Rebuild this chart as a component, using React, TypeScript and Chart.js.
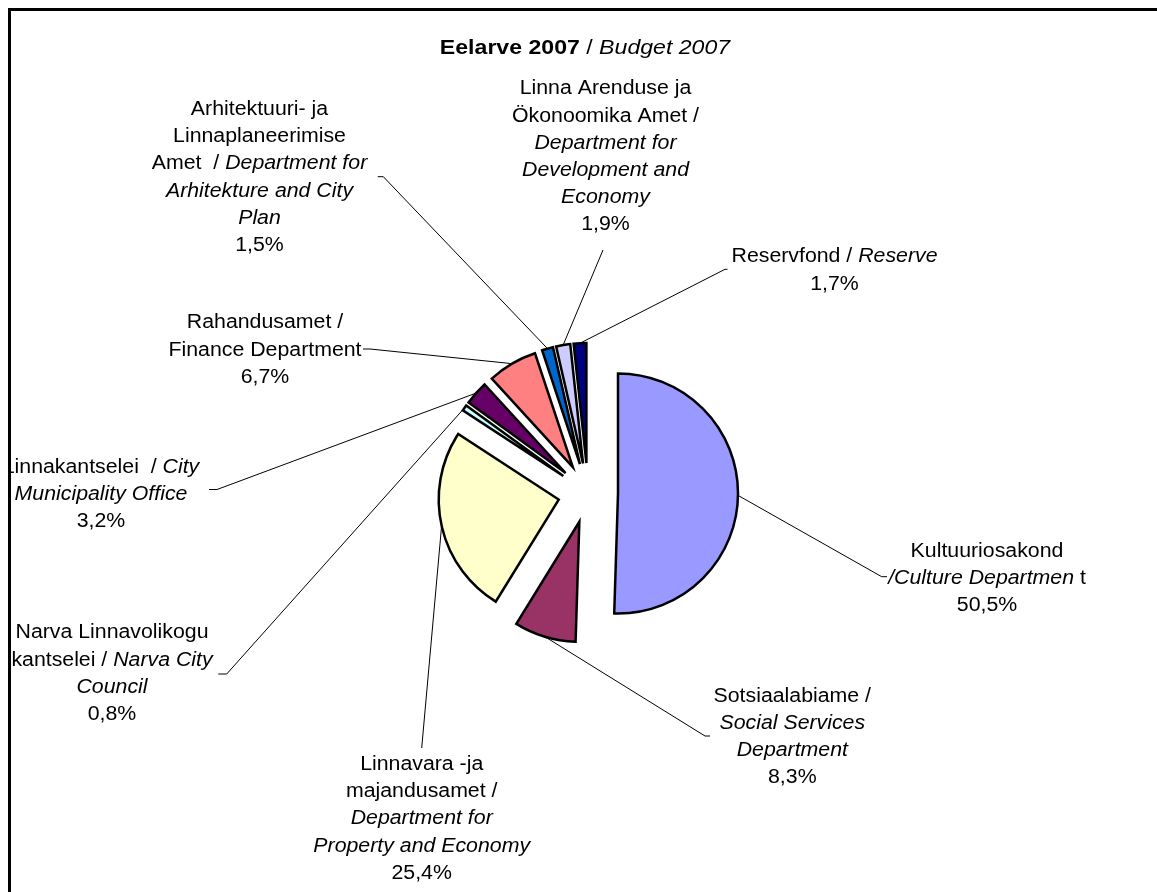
import React, { useEffect, useRef } from 'react';
import { Chart, ArcElement, PieController, registerables } from 'chart.js';

Chart.register(...registerables);

// ---------------- data ----------------
const categories = [
  'Kultuuriosakond',
  'Sotsiaalabiame',
  'Linnavara -ja majandusamet',
  'Narva Linnavolikogu kantselei',
  'Linnakantselei',
  'Rahandusamet',
  'Arhitektuuri- ja Linnaplaneerimise Amet',
  'Linna Arenduse ja Ökonoomika Amet',
  'Reservfond',
];
const shares = [50.5, 8.3, 25.4, 0.8, 3.2, 6.7, 1.5, 1.9, 1.7];
const sliceColors = ['#9999FF', '#993366', '#FFFFCC', '#CCFFFF', '#660066', '#FF8080', '#0066CC', '#CCCCFF', '#000080'];

type Seg = { t: string; s?: 'i' | 'b' };
// wrapped label text (percent line is appended from shares)
const labelText: Seg[][][] = [
  [[{ t: 'Kultuuriosakond' }], [{ t: '/Culture Departmen', s: 'i' }, { t: ' t' }]],
  [[{ t: 'Sotsiaalabiame /' }], [{ t: 'Social Services', s: 'i' }], [{ t: 'Department', s: 'i' }]],
  [[{ t: 'Linnavara -ja' }], [{ t: 'majandusamet /' }], [{ t: 'Department for', s: 'i' }], [{ t: 'Property and Economy', s: 'i' }]],
  [[{ t: 'Narva Linnavolikogu' }], [{ t: 'kantselei / ' }, { t: 'Narva City', s: 'i' }], [{ t: 'Council', s: 'i' }]],
  [[{ t: 'Linnakantselei  / ' }, { t: 'City', s: 'i' }], [{ t: 'Municipality Office', s: 'i' }]],
  [[{ t: 'Rahandusamet /' }], [{ t: 'Finance Department' }]],
  [[{ t: 'Arhitektuuri- ja' }], [{ t: 'Linnaplaneerimise' }], [{ t: 'Amet  / ' }, { t: 'Department for', s: 'i' }], [{ t: 'Arhitekture and City', s: 'i' }], [{ t: 'Plan', s: 'i' }]],
  [[{ t: 'Linna Arenduse ja' }], [{ t: 'Ökonoomika Amet /' }], [{ t: 'Department for', s: 'i' }], [{ t: 'Development and', s: 'i' }], [{ t: 'Economy', s: 'i' }]],
  [[{ t: 'Reservfond / ' }, { t: 'Reserve', s: 'i' }]],
];
const titleText: Seg[] = [{ t: 'Eelarve 2007', s: 'b' }, { t: ' / ' }, { t: 'Budget 2007', s: 'i' }];

// ---------------- layout (page coordinates) ----------------
const PAGE_OFFSET = 8;
const CANVAS_W = 1149;
const CANVAS_H = 884;
const FONT_FAMILY = '"Liberation Sans", Arial, Helvetica, sans-serif';
const LABEL_SIZE = 20;
const TITLE_SIZE = 21;
const TEXT_STRETCH = 1.065;
const TITLE_STRETCH = 1.1;
const LINE_H = 27.2;
const TITLE_POS = { cx: 585, y: 54 };
const LABEL_LAYOUT = [
  { cx: 987, y0: 556.7, elbow: [881.7, 576.7], end: [887, 576.7] },
  { cx: 792.3, y0: 701.7, elbow: [705, 736], end: [710, 736] },
  { cx: 421.7, y0: 770, elbow: [421.7, 748], end: [421.7, 748] },
  { cx: 112, y0: 638.3, elbow: [226.7, 674], end: [218.3, 674] },
  { cx: 101, y0: 472.7, elbow: [217, 489.5], end: [209, 489.5] },
  { cx: 265, y0: 328.3, elbow: [370, 349], end: [363, 349] },
  { cx: 259.5, y0: 115, elbow: [383.3, 176.7], end: [377.7, 176.7] },
  { cx: 605.5, y0: 94.3, elbow: [603, 250], end: [603, 250] },
  { cx: 834.5, y0: 262.3, elbow: [725, 269.3], end: [727.5, 269.3] },
];

// ---------------- exploded pie (full translation per slice) ----------------
class ExplodedArc extends ArcElement {
  static id = 'explodedArc';
  draw(ctx: CanvasRenderingContext2D) {
    const self: any = this;
    const { x, y, startAngle, endAngle, outerRadius, options } = self;
    if (!(endAngle > startAngle) || outerRadius <= 0) return;
    const mid = (startAngle + endAngle) / 2;
    const off = options.offset || 0;
    ctx.save();
    ctx.translate(Math.cos(mid) * off, Math.sin(mid) * off);
    ctx.beginPath();
    ctx.moveTo(x, y);
    ctx.arc(x, y, outerRadius, startAngle, endAngle);
    ctx.closePath();
    ctx.fillStyle = options.backgroundColor;
    ctx.fill();
    if (options.borderWidth) {
      ctx.lineWidth = options.borderWidth;
      ctx.strokeStyle = options.borderColor;
      ctx.lineJoin = 'miter';
      ctx.miterLimit = 6;
      ctx.stroke();
    }
    ctx.restore();
  }
}
class ExplodedPieController extends PieController {
  static id = 'explodedPie';
  static defaults = { dataElementType: 'explodedArc' };
}
Chart.register(ExplodedArc as any, ExplodedPieController as any);

function fontFor(s: Seg, size: number) {
  const style = s.s === 'i' ? 'italic ' : '';
  const weight = s.s === 'b' ? 'bold ' : '';
  return `${style}${weight}${size}px ${FONT_FAMILY}`;
}

function drawSegLine(ctx: CanvasRenderingContext2D, segs: Seg[], cx: number, y: number, size: number, sx: number) {
  const widths = segs.map((s) => {
    ctx.font = fontFor(s, size);
    return ctx.measureText(s.t).width * sx;
  });
  const total = widths.reduce((a, b) => a + b, 0);
  let x = cx - total / 2;
  segs.forEach((s, i) => {
    ctx.font = fontFor(s, size);
    ctx.save();
    ctx.translate(x, y);
    ctx.scale(sx, 1);
    ctx.fillText(s.t, 0, 0);
    ctx.restore();
    x += widths[i];
  });
}

const pct = (v: number) => v.toFixed(1).replace('.', ',') + '%';

const labelPlugin = {
  id: 'budgetLabels',
  afterDatasetsDraw(chart: any) {
    const ctx: CanvasRenderingContext2D = chart.ctx;
    const meta = chart.getDatasetMeta(0);
    ctx.save();
    ctx.strokeStyle = '#000';
    ctx.lineWidth = 1;
    meta.data.forEach((arc: any, i: number) => {
      const lay = LABEL_LAYOUT[i];
      if (!lay) return;
      const mid = (arc.startAngle + arc.endAngle) / 2;
      const r = arc.outerRadius + (arc.options.offset || 0);
      const px = arc.x + Math.cos(mid) * r;
      const py = arc.y + Math.sin(mid) * r;
      ctx.beginPath();
      ctx.moveTo(px, py);
      ctx.lineTo(lay.elbow[0] - PAGE_OFFSET, lay.elbow[1] - PAGE_OFFSET);
      ctx.lineTo(lay.end[0] - PAGE_OFFSET, lay.end[1] - PAGE_OFFSET);
      ctx.stroke();
    });
    ctx.restore();
  },
  afterDraw(chart: any) {
    const ctx: CanvasRenderingContext2D = chart.ctx;
    ctx.save();
    ctx.fillStyle = '#000';
    ctx.textAlign = 'left';
    ctx.textBaseline = 'alphabetic';
    drawSegLine(ctx, titleText, TITLE_POS.cx - PAGE_OFFSET, TITLE_POS.y - PAGE_OFFSET, TITLE_SIZE, TITLE_STRETCH);
    labelText.forEach((lines, i) => {
      const lay = LABEL_LAYOUT[i];
      const all = [...lines, [{ t: pct(shares[i]) }]];
      all.forEach((segs, j) => {
        drawSegLine(ctx, segs, lay.cx - PAGE_OFFSET, lay.y0 - PAGE_OFFSET + j * LINE_H, LABEL_SIZE, TEXT_STRETCH);
      });
    });
    // chart frame (top and left edges visible)
    ctx.fillRect(0, 0, chart.width, 3);
    ctx.fillRect(0, 0, 3, chart.height);
    ctx.restore();
  },
};

export default function App() {
  const ref = useRef<HTMLCanvasElement>(null);
  useEffect(() => {
    if (!ref.current) return;
    const chart = new Chart(ref.current, {
      type: 'explodedPie' as any,
      data: {
        labels: categories,
        datasets: [
          {
            data: shares,
            backgroundColor: sliceColors,
            borderColor: '#000000',
            borderWidth: 2.5,
            offset: 30,
            radius: 120,
            clip: false,
          } as any,
        ],
      },
      options: {
        responsive: false,
        animation: false,
        events: [],
        layout: { padding: { left: 300, right: 289, top: 300, bottom: 214 } },
        plugins: {
          legend: { display: false },
          tooltip: { enabled: false },
          title: { display: false },
        },
      } as any,
      plugins: [labelPlugin],
    });
    return () => chart.destroy();
  }, []);
  return (
    <div style={{ position: 'absolute', left: PAGE_OFFSET, top: PAGE_OFFSET, width: CANVAS_W, height: CANVAS_H, overflow: 'hidden', background: '#fff' }}>
      <canvas ref={ref} width={CANVAS_W} height={CANVAS_H} style={{ display: 'block' }} />
    </div>
  );
}
